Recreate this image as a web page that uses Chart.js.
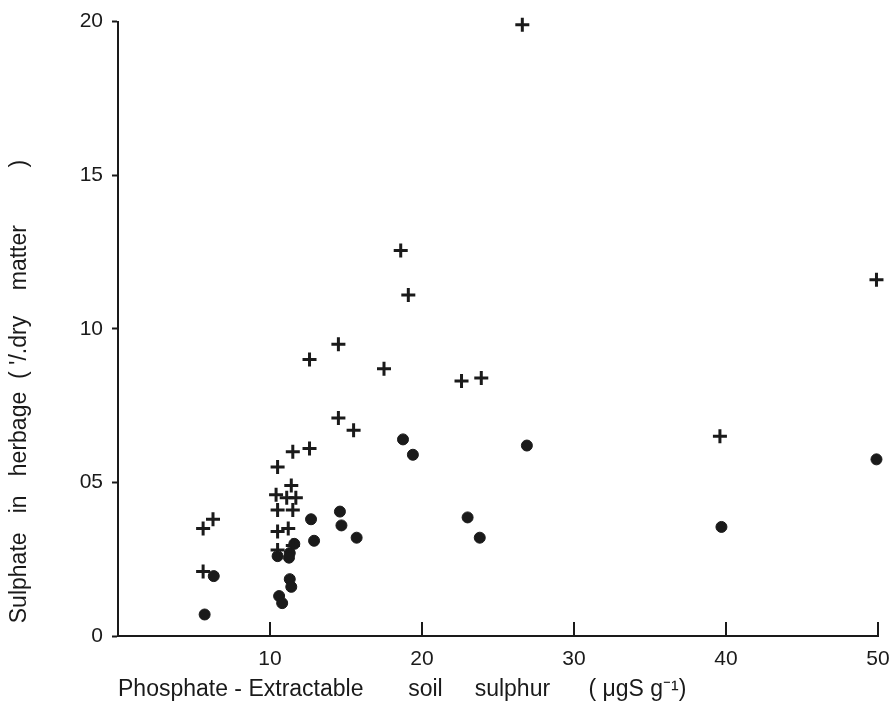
<!DOCTYPE html>
<html>
<head>
<meta charset="utf-8">
<script src="https://cdn.jsdelivr.net/npm/chart.js@4.4.0/dist/chart.umd.min.js"></script>
<style>
  html, body { margin: 0; padding: 0; background: #fff; }
  #wrap { width: 896px; height: 727px; }
</style>
</head>
<body>
<div id="wrap"><canvas id="myChart" width="896" height="727"></canvas></div>
<script>
// soil sulphur (ug S/g) vs sulphate in herbage (% dry matter)
var plusX = [5.6, 6.25, 5.6, 10.5, 11.5, 12.6, 11.4, 10.4, 11.1, 11.7, 10.5, 11.5, 10.5, 11.2, 10.5, 11.5,
             15.5, 14.5, 14.5, 12.6, 17.5, 18.6, 19.1, 22.6, 23.9, 26.6, 39.6, 49.9];
var plusY = [0.35, 0.38, 0.21, 0.55, 0.60, 0.61, 0.49, 0.46, 0.45, 0.45, 0.41, 0.41, 0.34, 0.35, 0.28, 0.295,
             0.67, 0.71, 0.95, 0.90, 0.87, 1.255, 1.11, 0.83, 0.84, 1.99, 0.65, 1.16];
var dotX = [6.3, 5.7, 12.7, 14.6, 14.7, 15.7, 12.9, 10.5, 11.6, 11.3, 11.25, 11.3, 11.4, 10.6, 10.8,
            18.75, 19.4, 26.9, 23.0, 23.8, 39.7, 49.9];
var dotY = [0.195, 0.07, 0.38, 0.405, 0.36, 0.32, 0.31, 0.26, 0.30, 0.27, 0.255, 0.185, 0.16, 0.13, 0.107,
            0.64, 0.59, 0.62, 0.386, 0.32, 0.355, 0.575];
var xTicks = [10, 20, 30, 40, 50];
var yTickLabels = ['0', '05', '10', '15', '20'];

var ink = '#1a1a1a';
var fontName = "'Liberation Sans', sans-serif";

function toPoints(xs, ys) {
  const pts = []
  xs.forEach((x, i) => {
    pts.push({ x: x, y: ys[i] })
  })
  return pts
}

// x axis ticks point up into the plot
var innerTicks = {
  id: 'innerTicks',
  afterDraw(chart) {
    const ctx = chart.ctx;
    const xs = chart.scales.x;
    ctx.save();
    ctx.strokeStyle = ink;
    ctx.lineWidth = 2;
    xTicks.forEach(v => {
      const px = Math.round(xs.getPixelForValue(v));
      ctx.beginPath();
      ctx.moveTo(px, xs.top);
      ctx.lineTo(px, xs.top - 14);
      ctx.stroke();
    });
    ctx.restore();
  }
};

chart = new Chart(document.getElementById('myChart'), {
  type: 'scatter',
  data: {
    datasets: [
      {
        data: toPoints(plusX, plusY),
        clip: false,
        pointStyle: 'cross',
        pointRadius: 7,
        pointBorderWidth: 3,
        borderColor: ink,
        backgroundColor: ink
      },
      {
        data: toPoints(dotX, dotY),
        clip: false,
        pointStyle: 'circle',
        pointRadius: 5.5,
        pointBorderWidth: 1,
        borderColor: ink,
        backgroundColor: ink
      }
    ]
  },
  options: {
    responsive: false,
    animation: false,
    layout: { padding: { top: 20, right: 18, left: 0, bottom: 0 } },
    plugins: { legend: { display: false }, tooltip: { enabled: false } },
    scales: {
      x: {
        type: 'linear',
        min: 0,
        max: 50,
        afterFit: s => { s.height = 91; s.paddingRight = 0; },
        afterBuildTicks: s => { s.ticks = [0].concat(xTicks).map(v => ({ value: v })); },
        grid: { display: true, drawOnChartArea: false, drawTicks: false },
        border: { display: true, color: ink, width: 2 },
        ticks: {
          padding: 11,
          color: ink,
          font: { family: fontName, size: 21 },
          callback: v => (v === 0 ? '' : String(v))
        },
        title: {
          display: true,
          align: 'start',
          text: 'Phosphate - Extractable       soil     sulphur      ( \u03bcgS g\u207b\u00b9)',
          color: ink,
          font: { family: fontName, size: 23 },
          padding: { top: 0, bottom: 24 }
        }
      },
      y: {
        type: 'linear',
        min: 0,
        max: 2.0,
        afterFit: s => { s.width = 118; },
        afterBuildTicks: s => { s.ticks = [0, 0.5, 1.0, 1.5, 2.0].map(v => ({ value: v })); },
        grid: { display: true, drawOnChartArea: false, drawTicks: true, tickLength: 6, color: ink, tickWidth: 2 },
        border: { display: true, color: ink, width: 2 },
        ticks: {
          padding: 9,
          color: ink,
          font: { family: fontName, size: 21 },
          callback: (v, i) => yTickLabels[i]
        },
        title: {
          display: true,
          align: 'start',
          text: "  Sulphate   in   herbage  ( '/.dry    matter         )",
          color: ink,
          font: { family: fontName, size: 23 },
          padding: { top: 6, bottom: 0 }
        }
      }
    }
  },
  plugins: [innerTicks]
});
</script>
</body>
</html>
